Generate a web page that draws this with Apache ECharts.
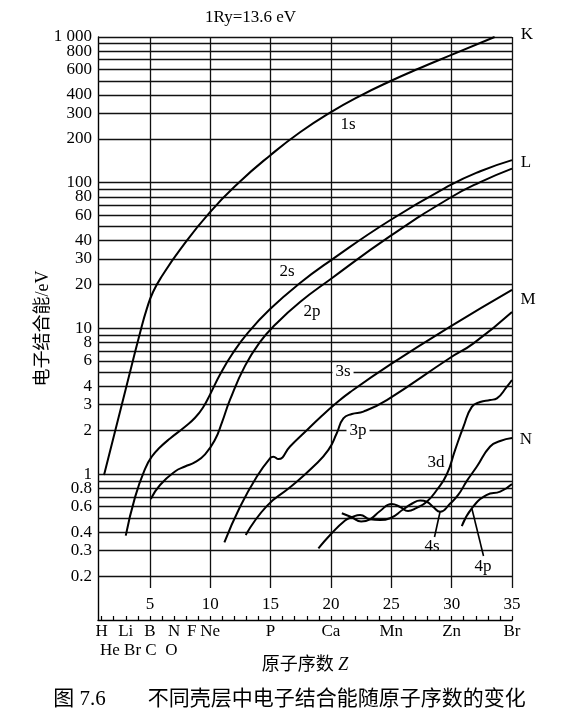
<!DOCTYPE html>
<html>
<head>
<meta charset="utf-8">
<script src="https://cdn.jsdelivr.net/npm/echarts@6/dist/echarts.min.js"></script>
<style>
html,body{margin:0;padding:0;background:#fff}
#main{width:579px;height:725px}
</style>
</head>
<body>
<div id="main"></div>
<script>
// 各壳层电子结合能 (纵轴单位实为 Ry)
var z1s = [1.2, 3.0, 4.18, 4.76, 5.26, 6.0, 7.5, 9.93, 12.47, 14.96, 17.44, 19.93, 22.42, 24.9, 27.39, 29.88, 33.56];
var e1s = [0.99, 3.85, 9.31, 13.8, 17.8, 22.9, 34.8, 62.2, 102, 154, 222, 303, 395, 497, 613, 748, 1000];
var z2s = [3.0, 3.77, 4.6, 5.18, 5.84, 6.67, 7.91, 8.74, 9.4, 9.98, 10.81, 11.81, 13.13, 14.96, 17.44, 19.93, 24.9, 29.88, 32.37, 35];
var e2s = [0.379, 0.697, 1.09, 1.33, 1.53, 1.76, 2.12, 2.44, 2.87, 3.52, 4.83, 6.66, 9.37, 13.6, 20.5, 29.1, 55.3, 96.2, 120, 143];
var z2p = [5.07, 5.84, 7.08, 7.91, 8.74, 9.57, 10.4, 10.98, 11.64, 12.88, 14.13, 15.37, 17.44, 19.93, 24.9, 29.88, 32.37, 35];
var e2p = [0.676, 0.844, 1.045, 1.13, 1.21, 1.37, 1.73, 2.28, 3.25, 5.54, 8.09, 10.6, 15.2, 21.7, 43.0, 78.9, 101, 125];
var z3s = [11.17, 12.47, 13.85, 14.96, 15.23, 15.64, 16.61, 18.02, 19.1, 20.35, 21.59, 24.9, 29.88, 35];
var e3s = [0.341, 0.598, 0.962, 1.29, 1.32, 1.27, 1.55, 2.01, 2.45, 3.03, 3.66, 5.65, 10.3, 18.4];
var z3p = [12.94, 14.68, 16.61, 18.55, 19.79, 20.48, 21.03, 21.73, 22.69, 24.63, 29.82, 31.81, 35];
var e3p = [0.383, 0.605, 0.813, 1.13, 1.47, 1.91, 2.42, 2.59, 2.69, 3.23, 6.25, 7.91, 13.0];
var z3d = [20.9, 21.73, 22.5, 23.24, 24.07, 25.04, 25.73, 26.39, 27.06, 27.94, 28.77, 29.6, 30.29, 30.98, 31.67, 32.36, 33.19, 33.75, 34.58, 35];
var e3d = [0.540, 0.507, 0.474, 0.491, 0.560, 0.625, 0.596, 0.560, 0.586, 0.648, 0.780, 1.00, 1.47, 2.12, 2.90, 3.13, 3.23, 3.32, 3.99, 4.43];
var z4s = [18.96, 19.93, 21.17, 21.73, 22.42, 23.24, 24.07, 24.9, 26.0, 26.73, 27.39, 27.94, 28.47, 29.05, 29.88, 30.54, 31.26, 32.09, 33.19, 34.02, 35];
var e4s = [0.310, 0.383, 0.482, 0.507, 0.525, 0.491, 0.485, 0.499, 0.575, 0.630, 0.661, 0.648, 0.596, 0.553, 0.630, 0.721, 0.900, 1.13, 1.55, 1.69, 1.77];
var z4p = [30.84, 31.67, 32.92, 34.02, 35];
var e4p = [0.441, 0.584, 0.721, 0.759, 0.857];

// 网格线与刻度
var gridVals = [1000, 900, 800, 700, 600, 500, 400, 300, 200, 100, 90, 80, 70, 60, 50, 40, 30, 20,
  10, 9, 8, 7, 6, 5, 4, 3, 2, 1, 0.9, 0.8, 0.7, 0.6, 0.5, 0.4, 0.3, 0.2];
var labelVals = [1000, 800, 600, 400, 300, 200, 100, 80, 60, 40, 30, 20, 10, 8, 6, 4, 3, 2, 1, 0.8, 0.6, 0.4, 0.3, 0.2];
var vGridZ = [5, 10, 15, 20, 25, 30, 35];
var zTicks = [1, 2, 3, 4, 5, 6, 7, 8, 9, 10, 11, 12, 13, 14, 15, 16, 17, 18, 19, 20,
  21, 22, 23, 24, 25, 26, 27, 28, 29, 30, 31, 32, 33, 34, 35];
var zLabels = [5, 10, 15, 20, 25, 30, 35];
var elemZ = [1, 3, 5, 7, 9, 10, 15, 20, 25, 30, 35];
var elemName = ['H', 'Li', 'B', 'N', 'F', 'Ne', 'P', 'Ca', 'Mn', 'Zn', 'Br'];
var elemRow2 = 'He Br C  O';

var serif = 'Liberation Serif, Noto Sans CJK SC';
var vBottom = 0.166;

function pairs(z, e) {
  var out = [];
  for (var i = 0; i < z.length; i++) out.push([z[i], e[i]]);
  return out;
}
function fmtY(v) { return v === 1000 ? '1 000' : String(v); }

function curve(name, z, e) {
  return {
    name: name, type: 'line', data: pairs(z, e),
    symbol: 'none', smooth: 0.5, silent: true, z: 5,
    lineStyle: { color: '#000', width: 2 }
  };
}

var hLines = gridVals.map(function (v) {
  return { yAxis: v, label: { show: labelVals.indexOf(v) >= 0, formatter: fmtY(v) } };
});
var vLines = vGridZ.map(function (z) {
  return [{ coord: [z, vBottom] }, { coord: [z, 1000] }];
});

function txt(t, x, y, bg) {
  var s = { text: t, x: x, y: y, align: 'center', verticalAlign: 'middle',
    font: '17px ' + serif, fill: '#000' };
  if (bg) { s.backgroundColor = '#fff'; s.padding = [0, 3]; }
  return { type: 'text', z: 20, style: s };
}
function lead(x1, y1, x2, y2) {
  return { type: 'line', z: 20, shape: { x1: x1, y1: y1, x2: x2, y2: y2 },
    style: { stroke: '#000', lineWidth: 1.6 } };
}

var chart = echarts.init(document.getElementById('main'));
var option = {
  animation: false,
  backgroundColor: '#fff',
  title: [
    { text: '1Ry=13.6 eV', left: 200, top: 4,
      textStyle: { fontSize: 17, fontWeight: 'normal', fontFamily: serif, color: '#000' } },
    { text: '图 7.6\u3000\u3000不同壳层中电子结合能随原子序数的变化', left: 'center', top: 684,
      textStyle: { fontSize: 21, fontWeight: 'normal', fontFamily: serif, color: '#000' } }
  ],
  grid: { left: 98, right: 67, top: 37, bottom: 105 },
  xAxis: [
    {
      type: 'value', min: 0.7, max: 35, position: 'bottom',
      axisLine: { show: true, lineStyle: { color: '#000', width: 1.4 } },
      axisTick: { show: true, inside: true, length: 4, customValues: zTicks,
        lineStyle: { color: '#000', width: 1.2 } },
      axisLabel: { inside: true, margin: 7, customValues: zLabels,
        fontSize: 17, fontFamily: serif, color: '#000' },
      splitLine: { show: false }
    },
    {
      type: 'value', min: 0.7, max: 35, position: 'bottom',
      axisLine: { show: false }, axisTick: { show: false }, splitLine: { show: false },
      axisLabel: {
        margin: 3, customValues: elemZ, fontSize: 17, fontFamily: serif, color: '#000',
        formatter: function (v) {
          var n = elemName[elemZ.indexOf(v)];
          return n === 'F' ? '{sh|F}' : n;
        },
        rich: { sh: { padding: [0, 13, 0, 0], fontSize: 17, fontFamily: serif, color: '#000' } }
      },
      name: '原子序数 {i|Z}', nameLocation: 'middle', nameGap: 36,
      nameTextStyle: { fontSize: 18, fontFamily: serif, color: '#000',
        rich: { i: { fontStyle: 'italic', fontSize: 18, fontFamily: serif, color: '#000' } } }
    }
  ],
  yAxis: {
    type: 'log', min: 0.1, max: 1000,
    axisLine: { show: true, lineStyle: { color: '#000', width: 1.4 } },
    axisTick: { show: false }, axisLabel: { show: false }, splitLine: { show: false },
    name: '电子结合能/eV', nameLocation: 'middle', nameRotate: 90, nameGap: 46,
    nameTextStyle: { fontSize: 18, fontFamily: serif, color: '#000' }
  },
  series: [
    {
      name: 'grid', type: 'line', data: [], silent: true, z: 1,
      markLine: {
        silent: true, symbol: 'none', animation: false,
        lineStyle: { color: '#111', width: 1.3, type: 'solid' },
        label: { position: 'start', distance: 6, fontSize: 17, fontFamily: serif, color: '#000' },
        data: hLines
      }
    },
    {
      name: 'vgrid', type: 'line', data: [], silent: true, z: 1,
      markLine: {
        silent: true, symbol: 'none', animation: false,
        lineStyle: { color: '#111', width: 1.3, type: 'solid' },
        label: { show: false },
        data: vLines
      }
    },
    curve('1s', z1s, e1s),
    curve('2s', z2s, e2s),
    curve('2p', z2p, e2p),
    curve('3s', z3s, e3s),
    curve('3p', z3p, e3p),
    curve('3d', z3d, e3d),
    curve('4s', z4s, e4s),
    curve('4p', z4p, e4p)
  ],
  graphic: [
    txt('1s', 348, 125), txt('2s', 287, 272), txt('2p', 312, 312),
    txt('3s', 343, 372, true), txt('3p', 358, 431, true), txt('3d', 436, 463),
    txt('4s', 432, 547), txt('4p', 483, 567),
    txt('K', 527, 35), txt('L', 526, 163), txt('M', 528, 300), txt('N', 526, 440),
    lead(440, 512, 434.5, 537), lead(472, 509, 483.5, 556),
    { type: 'text', z: 20, style: { text: elemRow2, x: 100, y: 651, verticalAlign: 'middle',
      font: '17px ' + serif, fill: '#000' } }
  ]
};
chart.setOption(option);
</script>
</body>
</html>
